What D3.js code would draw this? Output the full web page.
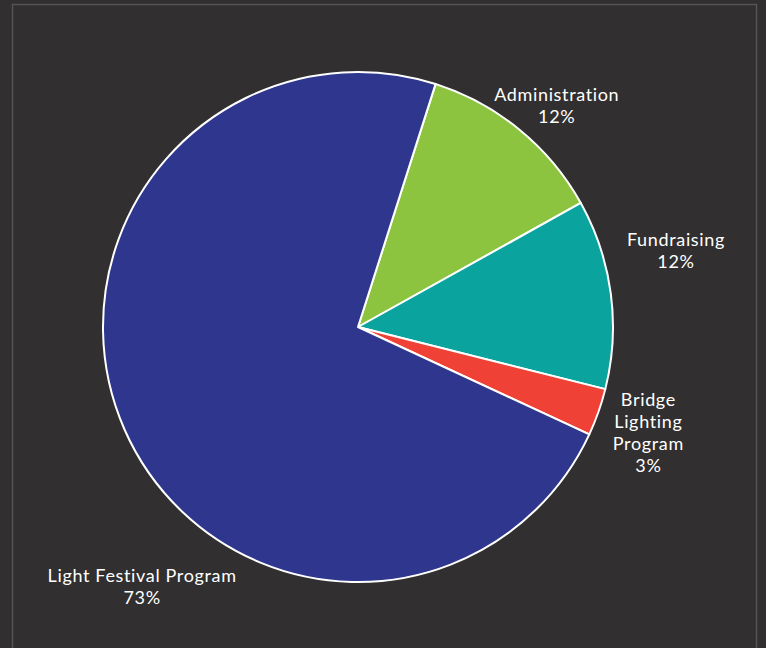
<!DOCTYPE html>
<html>
<head>
<meta charset="utf-8">
<script src="https://cdn.jsdelivr.net/npm/d3@7"></script>
<style>
	html, body { margin: 0; padding: 0; background: #312f30; }
	#chart { width: 766px; height: 648px; }
	text { font-family: Lato, "Noto Sans", sans-serif; fill: #ffffff; }
</style>
</head>
<body>
<div id="chart"></div>
<script>
(function() {
	'use strict';

	// Data
	const categories = ['Administration', 'Fundraising', 'Bridge Lighting Program', 'Light Festival Program'];
	const values = [12, 12, 3, 73];
	const colors = ['#8cc43f', '#0aa39e', '#f04136', '#2e368e'];
	// label lines as shown in the picture
	const labelLines = [
		['Administration'],
		['Fundraising'],
		['Bridge', 'Lighting', 'Program'],
		['Light Festival Program']
	];

	const width = 766;
	const height = 648;
	const cx = 358;
	const cy = 327;
	const radius = 255;
	const startAngle = 17.7 * Math.PI / 180;

	// Label placement: angle (deg, clockwise from 12 o'clock) and distance from centre
	const labelPlacement = [
		{ angle: 42, dist: 297 },
		{ angle: 76.5, dist: 327 },
		{ angle: 110, dist: 309 },
		{ angle: 219.7, dist: 338 }
	];

	const svg = d3.select('#chart')
		.append('svg')
		.attr('width', width)
		.attr('height', height);

	// Frame
	svg.append('path')
		.attr('d', 'M12.5,' + (height + 2) + 'V4.5H756.5V' + (height + 2))
		.attr('fill', 'none')
		.attr('stroke', '#555354')
		.attr('stroke-width', 1.5);

	const data = categories.map(function(c, i) {
		return { name: c, value: values[i], color: colors[i], lines: labelLines[i], place: labelPlacement[i] };
	});

	const pie = d3.pie()
		.sort(null)
		.value(function(d) { return d.value; })
		.startAngle(startAngle)
		.endAngle(startAngle + 2 * Math.PI);

	const arc = d3.arc()
		.innerRadius(0)
		.outerRadius(radius);

	const g = svg.append('g')
		.attr('transform', 'translate(' + cx + ',' + cy + ')');

	g.selectAll('path.slice')
		.data(pie(data))
		.enter().append('path')
		.attr('class', 'slice')
		.attr('d', arc)
		.attr('fill', function(d) { return d.data.color; })
		.attr('stroke', '#ffffff')
		.attr('stroke-width', 2)
		.attr('stroke-linejoin', 'round');

	// Labels
	const lineHeight = 22;
	const total = d3.sum(values);

	const labels = g.selectAll('text.label')
		.data(pie(data))
		.enter().append('text')
		.attr('class', 'label')
		.attr('text-anchor', 'middle')
		.style('font-size', '18px')
		.style('letter-spacing', '0.65px')
		.attr('transform', function(d) {
			const a = d.data.place.angle * Math.PI / 180;
			const x = Math.sin(a) * d.data.place.dist;
			const y = -Math.cos(a) * d.data.place.dist;
			const n = d.data.lines.length + 1;
			return 'translate(' + x + ',' + (y - (n - 1) * lineHeight / 2 + 6) + ')';
		});

	labels.each(function(d) {
		const t = d3.select(this);
		const lines = d.data.lines.concat([Math.round(d.data.value / total * 100) + '%']);
		lines.forEach(function(l, i) {
			t.append('tspan')
				.attr('x', 0)
				.attr('dy', i === 0 ? 0 : lineHeight)
				.text(l);
		});
	});
})();
</script>
</body>
</html>
